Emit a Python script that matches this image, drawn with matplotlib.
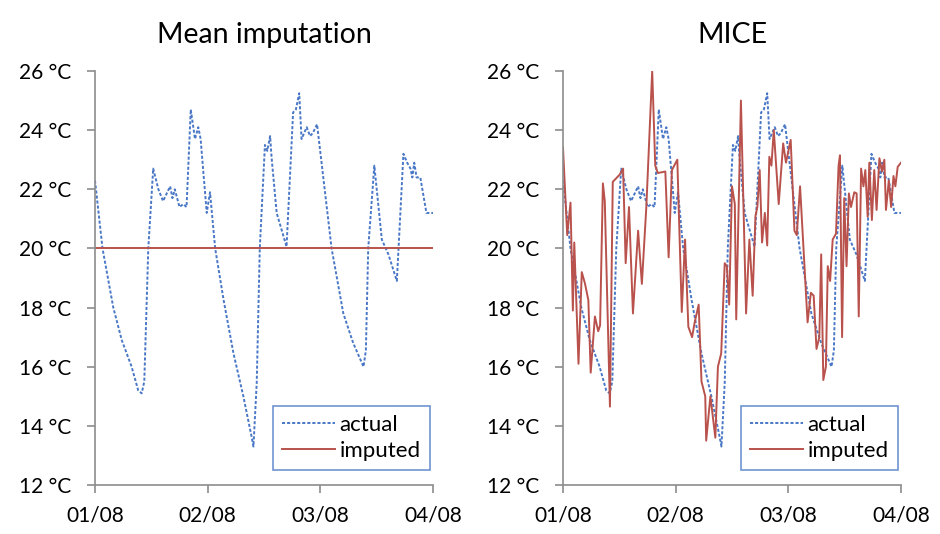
import numpy as np
import matplotlib
matplotlib.use("Agg")
import matplotlib.pyplot as plt

plt.rcParams['font.family'] = ['Lato', 'DejaVu Sans']

# ---- data (hours since 01/08 00:00, temperature in °C) ----
actual_h = [0, 1.6, 3.9, 5.7, 7.8, 9.2, 9.95, 10.5, 11.35, 12.4, 13.5, 14.5, 15.4,
            16.0, 16.5, 17.0, 18.0, 18.8, 19.5, 20.4, 21.3, 22.0, 22.5, 23.8, 24.5,
            25.6, 27.4, 29.5, 31.6, 33.4, 33.75, 34.45, 35.1, 36.2, 36.7, 37.3, 37.6,
            38.7, 40.8, 42.2, 42.8, 43.5, 44.0, 45.1, 45.8, 46.4, 47.3, 50.4, 52.9,
            55.0, 57.2, 57.7, 58.2, 59.5, 61.1, 62.5, 64.3, 65.7, 66.5, 67.2, 67.6,
            68.0, 68.5, 69.3, 70.6, 72.0]
actual_t = [22.3, 20.0, 18.0, 16.9, 16.0, 15.2, 15.1, 15.5, 20.0, 22.7, 22.0, 21.6, 21.9,
            22.1, 21.7, 22.0, 21.4, 21.5, 21.4, 24.7, 23.7, 24.1, 23.7, 21.2, 21.9,
            20.0, 18.25, 16.45, 15.0, 13.6, 13.3, 15.45, 20.0, 23.5, 23.3, 23.8, 23.1,
            21.2, 20.06, 24.6, 24.7, 25.25, 23.7, 24.1, 23.8, 23.9, 24.2, 20.0, 17.8,
            16.8, 16.0, 16.55, 20.0, 22.8, 20.3, 19.8, 18.9, 23.2, 22.9, 22.7, 22.4,
            22.9, 22.4, 22.4, 21.2, 21.2]

mean_value = 20.0

mice_h = [0, 0.9, 1.6, 2.1, 2.4, 3.3, 4.0, 4.7, 5.4, 5.9, 6.8, 7.5, 7.9, 8.5, 8.9,
          10.0, 10.6, 12.1, 12.8, 13.35, 14.06, 14.9, 16.0, 16.8, 17.75, 19.0, 19.65,
          20.2, 21.8, 22.5, 23.2, 24.35, 25.3, 26.0, 26.7, 27.5, 28.05, 28.9, 29.5,
          30.3, 30.5, 31.4, 32.45, 33.0, 33.7, 34.45, 34.9, 35.4, 36.0, 36.6, 36.9,
          37.9, 39.0, 39.7, 40.4, 41.0, 41.4, 41.9, 42.4, 43.0, 43.5, 43.95, 44.4,
          44.9, 45.95, 46.9, 47.5, 48.5, 49.3, 49.8, 50.5, 52.1, 52.8, 53.4, 54.0,
          54.6, 55.0, 55.45, 56.0, 56.4, 56.9, 57.45, 58.15, 58.7, 59.0, 59.45, 59.9,
          60.4, 60.9, 61.35, 62.05, 62.55, 63.0, 63.5, 64.0, 64.4, 64.9, 65.25, 65.8,
          66.3, 66.8, 67.4, 67.95, 68.45, 68.8, 69.4, 69.9, 70.4, 70.8, 71.3, 72.0]
mice_t = [23.4, 20.45, 21.55, 17.9, 20.2, 16.1, 19.2, 18.8, 18.25, 15.8, 17.7, 17.2, 17.4,
          22.2, 21.6, 14.65, 22.25, 22.5, 22.7, 19.5, 21.4, 17.8, 20.6, 18.8, 21.4, 26.0,
          22.8, 22.55, 22.6, 19.7, 22.65, 23.0, 17.85, 20.3, 17.35, 17.0, 17.5, 18.1,
          15.5, 15.0, 13.5, 15.0, 13.6, 16.0, 16.45, 19.5, 19.4, 18.1, 22.1, 21.5, 17.6,
          25.0, 17.8, 20.3, 18.4, 21.1, 21.4, 22.65, 20.2, 21.2, 20.1, 23.1, 22.8, 24.0,
          21.5, 23.55, 22.9, 23.67, 20.6, 20.45, 22.1, 17.5, 18.5, 18.4, 16.6, 17.0,
          19.8, 15.55, 16.0, 19.4, 18.9, 20.3, 20.5, 22.8, 23.15, 17.0, 21.7, 19.4,
          21.86, 21.4, 21.9, 21.86, 17.7, 22.7, 22.1, 22.65, 21.07, 22.9, 20.96, 22.65,
          21.3, 23.05, 22.6, 23.0, 21.3, 22.3, 21.4, 22.45, 22.1, 22.76, 22.9]

day_ticks = [0, 24, 48, 72]
day_labels = ['01/08', '02/08', '03/08', '04/08']
temp_ticks = [12, 14, 16, 18, 20, 22, 24, 26]

BLUE = '#4a78c6'
RED = '#b9524c'
AXIS = '#8c8c8c'

fig = plt.figure(figsize=(9.4, 5.34), dpi=100)
ax1 = fig.add_axes([95/940, 49/534, 338/940, 414/534])
ax2 = fig.add_axes([563/940, 49/534, 338/940, 414/534])

ax1.plot(actual_h, actual_t, color=BLUE, lw=1.4, dashes=(1.6, 1.0), label='actual')
ax1.plot(actual_h, np.full(len(actual_h), mean_value), color=RED, lw=1.4, label='imputed')

ax2.plot(actual_h, actual_t, color=BLUE, lw=1.4, dashes=(1.6, 1.0), label='actual')
ax2.plot(mice_h, mice_t, color=RED, lw=1.4, label='imputed')

for ax, title in [(ax1, 'Mean imputation'), (ax2, 'MICE')]:
    ax.set_xlim(0, 72)
    ax.set_ylim(12, 26)
    ax.set_xticks(day_ticks)
    ax.set_xticklabels(day_labels)
    ax.set_yticks(temp_ticks)
    ax.set_yticklabels([f'{t} °C' for t in temp_ticks])
    ax.tick_params(labelsize=15, length=6, width=1.2, color=AXIS)
    ax.tick_params(axis='y', pad=11)
    ax.tick_params(axis='x', pad=9)
    for side in ['top', 'right']:
        ax.spines[side].set_visible(False)
    for side in ['left', 'bottom']:
        ax.spines[side].set_color(AXIS)
        ax.spines[side].set_linewidth(1.2)
    ax.set_title(title, fontsize=20.5, pad=20)
    leg = ax.legend(loc='lower right', bbox_to_anchor=(0.99, 0.036), fontsize=16,
                    frameon=True, fancybox=False, handlelength=2.4, handletextpad=0.2,
                    borderpad=0.4, labelspacing=0.3, borderaxespad=0)
    leg.get_frame().set_edgecolor(BLUE)
    leg.get_frame().set_linewidth(1.2)

fig.savefig('out.png', dpi=100)
